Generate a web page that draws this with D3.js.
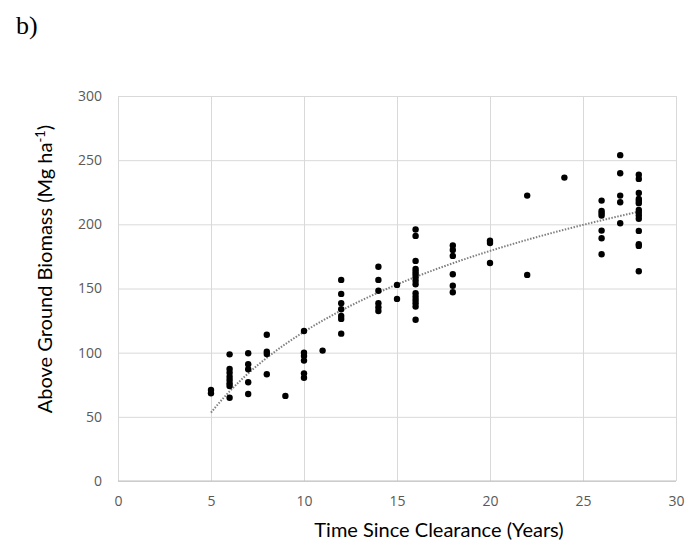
<!DOCTYPE html>
<meta charset="utf-8">
<head>
  <style>
    body { margin: 0; background: #fff; }
    .tick text { fill: #595959; font: 14px "Open Sans", sans-serif; }
    .grid line { stroke: #d9d9d9; stroke-width: 1px; }
    .title { font-family: Lato, sans-serif; font-size: 20px; fill: #000; }
  </style>
</head>
<body>
  <script src="https://d3js.org/d3.v7.min.js"></script>
  <script>
    // years since clearance and the biomass values observed at each
    const years = [5, 6, 7, 8, 9, 10, 11, 12, 14, 15, 16, 18, 20, 22, 24, 26, 27, 28];
    const biomass = [
      [70.9, 68.4],
      [98.7, 87.3, 84.4, 81.3, 78.7, 76.1, 74.0, 64.9],
      [99.5, 91, 87.1, 76.9, 67.8],
      [114, 100.8, 99, 83.2],
      [66.3],
      [116.9, 100, 97.4, 93.8, 83.9, 80.5],
      [101.6],
      [156.7, 145.8, 138.5, 133.8, 128.6, 126.3, 114.8],
      [167, 156.7, 148.3, 138.5, 135.4, 132.5],
      [152.8, 141.9],
      [196, 191, 171.5, 165.2, 163.1, 161.1, 158.8, 156.1, 153.3, 146.3, 143.6, 141.1, 138.5, 135.9, 125.7],
      [183.5, 180, 175.4, 161.1, 152.2, 147.1],
      [187.3, 185.5, 169.9],
      [222.4, 160.6],
      [236.4],
      [218.5, 210.4, 208.6, 206.8, 195.1, 189.2, 176.7],
      [253.9, 239.8, 222.4, 217.2, 200.9],
      [238.7, 235.4, 224.5, 219.8, 218.2, 216.5, 211.2, 209.1, 206.8, 204.4, 194.9, 184.5, 183.2, 163.4]
    ];
    const xTicks = [0, 5, 10, 15, 20, 25, 30];
    const yTicks = [0, 50, 100, 150, 200, 250, 300];

    const points = [];
    years.forEach((yr, i) => biomass[i].forEach(v => points.push({x: yr, y: v})));

    // logarithmic trendline, least squares on ln(x)
    const lx = points.map(p => Math.log(p.x));
    const mx = d3.mean(lx), my = d3.mean(points, p => p.y);
    const b = d3.sum(points, (p, i) => (lx[i] - mx) * (p.y - my)) / d3.sum(lx, v => (v - mx) * (v - mx));
    const a = my - b * mx;
    const trend = d3.range(5, 28.01, 0.25).map(x => ({x: x, y: a + b * Math.log(x)}));

    const W = 698, H = 551;
    const m = {left: 118, right: 22, top: 96, bottom: 70};

    const svg = d3.select("body").append("svg")
      .attr("width", W).attr("height", H);

    const x = d3.scaleLinear().domain([0, 30]).range([m.left, W - m.right]);
    const y = d3.scaleLinear().domain([0, 300]).range([H - m.bottom, m.top]);

    // gridlines
    svg.append("g").attr("class", "grid")
      .attr("transform", `translate(0,${H - m.bottom})`)
      .call(d3.axisBottom(x).tickValues(xTicks).tickSize(-(H - m.top - m.bottom)).tickFormat(""))
      .call(g => g.select(".domain").remove());
    svg.append("g").attr("class", "grid")
      .attr("transform", `translate(${m.left},0)`)
      .call(d3.axisLeft(y).tickValues(yTicks).tickSize(-(W - m.left - m.right)).tickFormat(""))
      .call(g => g.select(".domain").remove());

    // bottom axis line
    svg.append("line")
      .attr("x1", x(0)).attr("x2", x(30))
      .attr("y1", y(0)).attr("y2", y(0))
      .attr("stroke", "#bfbfbf");

    // tick labels
    svg.append("g")
      .attr("transform", `translate(0,${H - m.bottom})`)
      .call(d3.axisBottom(x).tickValues(xTicks).tickSize(0).tickPadding(15))
      .call(g => g.select(".domain").remove());
    svg.append("g")
      .attr("transform", `translate(${m.left},0)`)
      .call(d3.axisLeft(y).tickValues(yTicks).tickSize(0).tickPadding(16))
      .call(g => g.select(".domain").remove());

    // trendline
    svg.append("path")
      .datum(trend)
      .attr("fill", "none")
      .attr("stroke", "#808080")
      .attr("stroke-width", 2)
      .attr("stroke-dasharray", "1.5,1.5")
      .attr("d", d3.line().x(d => x(d.x)).y(d => y(d.y)));

    // points
    svg.append("g").selectAll("circle")
      .data(points)
      .join("circle")
      .attr("cx", d => x(d.x))
      .attr("cy", d => y(d.y))
      .attr("r", 3.2)
      .attr("fill", "#000");

    // axis titles
    const xt = svg.append("text")
      .attr("class", "title")
      .attr("x", 439).attr("y", 537)
      .attr("text-anchor", "middle")
      .text("Time Since Clearance (Years)");
    xt.attr("font-size", 20 * 258 / xt.node().getComputedTextLength());

    const yt = svg.append("text")
      .attr("class", "title")
      .attr("transform", "translate(52,269) rotate(-90)")
      .attr("text-anchor", "middle");
    yt.append("tspan").text("Above Ground Biomass (Mg ha");
    yt.append("tspan").attr("dy", -7).attr("font-size", "0.65em").text("-1");
    yt.append("tspan").attr("dy", 7).text(")");
    yt.attr("font-size", 20 * 302 / yt.node().getComputedTextLength());

    svg.append("text")
      .attr("x", 16).attr("y", 34)
      .attr("font-family", "Liberation Serif, serif")
      .attr("font-size", 26)
      .text("b)");
  </script>
</body>
